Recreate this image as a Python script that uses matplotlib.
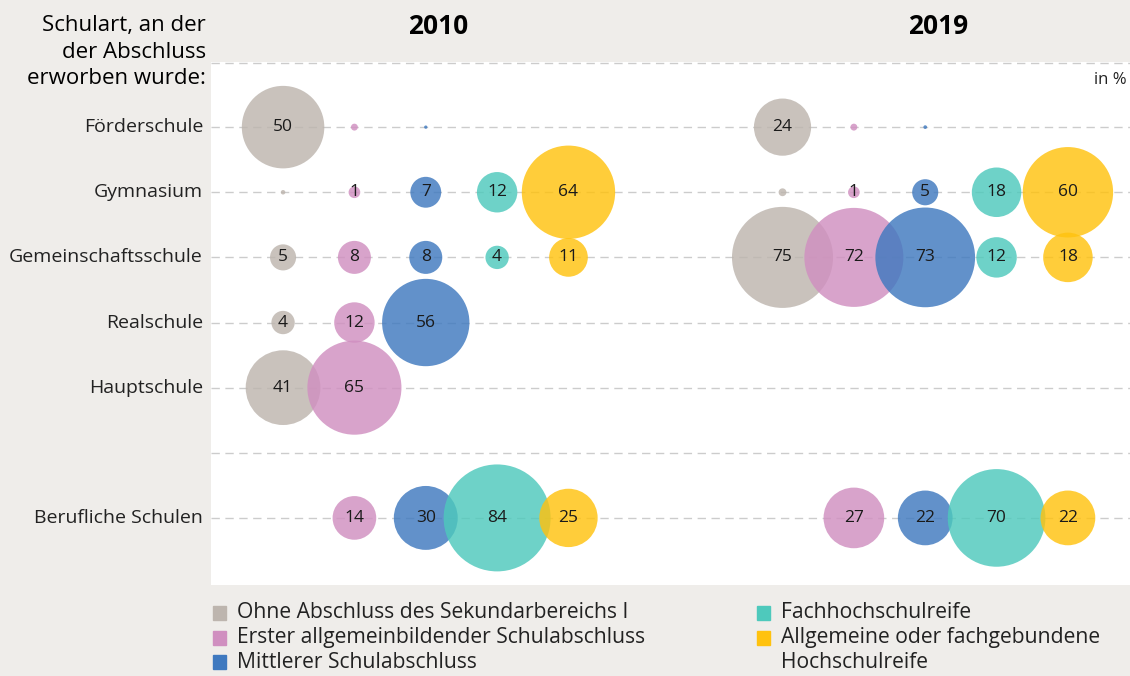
import numpy as np
import matplotlib.pyplot as plt

plt.rcParams['font.family'] = ['Open Sans', 'DejaVu Sans']

schools = ['Förderschule', 'Gymnasium', 'Gemeinschaftsschule', 'Realschule', 'Hauptschule', 'Berufliche Schulen']
row_pos = [0, 1, 2, 3, 4, 6]
categories = ['Ohne Abschluss des Sekundarbereichs I', 'Erster allgemeinbildender Schulabschluss',
              'Mittlerer Schulabschluss', 'Fachhochschulreife', 'Allgemeine oder fachgebundene\nHochschulreife']
colors = ['#bdb5ae', '#d08fc0', '#3f79bf', '#4ec9bc', '#ffc20e']

# values per school (rows) and category (columns), nan = no bubble
nan = np.nan
values_2010 = [
    [50, 0.35, 0.08, nan, nan],
    [0.15, 1, 7, 12, 64],
    [5, 8, 8, 4, 11],
    [4, 12, 56, nan, nan],
    [41, 65, nan, nan, nan],
    [nan, 14, 30, 84, 25],
]
values_2019 = [
    [24, 0.35, 0.1, nan, nan],
    [0.45, 1, 5, 18, 60],
    [75, 72, 73, 12, 18],
    [nan, nan, nan, nan, nan],
    [nan, nan, nan, nan, nan],
    [nan, 27, 22, 70, 22],
]
years = ['2010', '2019']
year_offset = [0, 7]

bg = '#efedea'
fig = plt.figure(figsize=(11.3, 6.76), dpi=100, facecolor=bg)
ax = fig.add_axes([211 / 1130, (676 - 585) / 676, (1130 - 211) / 1130, (585 - 62) / 676])
ax.set_facecolor('white')
ax.set_xlim(-1.01, 11.87)
ax.set_ylim(7.03, -1.0)
for s in ax.spines.values():
    s.set_visible(False)
ax.set_xticks([])
ax.set_yticks([])

grid_kw = dict(color='#cccccc', lw=1, ls=(0, (6, 4)), zorder=0)
for y in row_pos:
    ax.axhline(y, **grid_kw)
ax.axhline(5.0, **grid_kw)
ax.axhline(-0.99, **grid_kw)

scale = 70.6  # points^2 per percent
for data, off in zip([values_2010, values_2019], year_offset):
    for r, row in enumerate(data):
        for c, v in enumerate(row):
            if np.isnan(v):
                continue
            ax.scatter(c + off, row_pos[r], s=v * scale, color=colors[c], alpha=0.82,
                       edgecolors='none', zorder=2)
            if v >= 1:
                ax.text(c + off, row_pos[r], f'{v:.0f}', ha='center', va='center',
                        fontsize=12.5, color='#1a1a1a', zorder=3)

for y, name in zip(row_pos, schools):
    fig.text(203 / 1130, 1 - (y * 65.2 + 127) / 676, name, ha='right', va='center',
             fontsize=14, color='#222222')

for i, line in enumerate(['Schulart, an der', 'der Abschluss', 'erworben wurde:']):
    fig.text(206 / 1130, 1 - (25 + i * 27) / 676, line, ha='right', va='center',
             fontsize=16, color='black')
for yr, xc in zip(years, [438, 938]):
    fig.text(xc / 1130, 1 - 26 / 676, yr, ha='center', va='center', fontsize=19,
             fontweight='bold', color='black')
fig.text(1127 / 1130, 1 - 80 / 676, 'in %', ha='right', va='center', fontsize=12, color='#222222')

# legend
leg_pos = [(213, 613), (213, 638), (213, 662), (757, 613), (757, 638)]
for (lx, ly), lab, col in zip(leg_pos, categories, colors):
    fig.patches.append(plt.Rectangle((lx / 1130, 1 - (ly + 7) / 676), 13 / 1130, 14 / 676,
                                     transform=fig.transFigure, color=col))
    for k, part in enumerate(lab.split('\n')):
        fig.text((lx + 24) / 1130, 1 - (ly + k * 25) / 676, part, ha='left', va='center',
                 fontsize=15.2, color='#222222')

fig.savefig('out.png', dpi=100, facecolor=bg)
